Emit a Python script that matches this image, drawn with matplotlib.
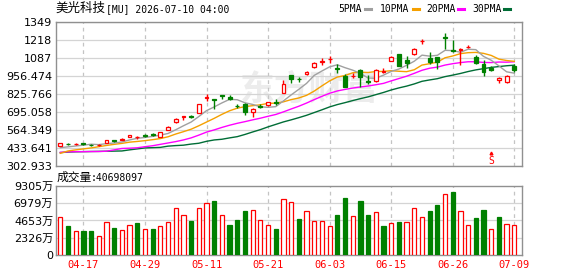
import matplotlib
matplotlib.use("Agg")
import matplotlib.pyplot as plt
from matplotlib.lines import Line2D
import numpy as np

# candle data (60 trading days)
opens = [445, 462, 457, 465, 454, 451, 470, 487, 493, 514,
         508, 523, 532, 515, 565, 618, 660, 662, 686, 793,
         784, 813, 803, 740, 751, 690, 733, 742, 765, 830,
         962, 936, 966, 1018, 1058, 1075, 1014, 955, 955, 998,
         919, 915, 984, 1064, 1112, 1071, 1112, 1206, 1088, 1090,
         1236, 1140, 1145, 1164, 1095, 1040, 1016, 927, 909, 1024]
highs = [468, 467, 465, 470, 458, 457, 492, 490, 506, 528,
         518, 530, 538, 548, 590, 650, 667, 670, 751, 822,
         790, 815, 813, 750, 761, 720, 748, 768, 785, 925,
         965, 950, 992, 1058, 1083, 1100, 1040, 967, 979, 1002,
         962, 1003, 1010, 1098, 1117, 1100, 1158, 1221, 1129, 1093,
         1269, 1216, 1155, 1180, 1107, 1071, 1025, 945, 960, 1042]
lows = [443, 452, 452, 455, 443, 448, 468, 478, 492, 512,
        500, 515, 520, 513, 562, 615, 636, 648, 683, 775,
        712, 788, 778, 723, 670, 660, 720, 738, 745, 828,
        902, 913, 960, 1015, 1034, 1047, 979, 873, 938, 873,
        897, 908, 974, 1062, 1028, 1015, 1110, 1187, 1040, 1003,
        1149, 1131, 1035, 1156, 1045, 957, 990, 902, 905, 982]
closes = [465, 458, 460, 462, 450, 453, 490, 484, 497, 525,
          512, 520, 524, 545, 585, 645, 665, 658, 748, 800,
          778, 810, 788, 735, 690, 715, 728, 765, 762, 900,
          932, 931, 982, 1048, 1062, 1080, 1009, 875, 958, 945,
          914, 1000, 988, 1095, 1030, 1047, 1149, 1210, 1059, 1059,
          1230, 1136, 1150, 1168, 1047, 986, 995, 943, 955, 998]

# moving averages as drawn
ma5 = [434, 440, 446, 452, 459, 456, 463, 468, 475, 490,
       502, 508, 516, 525, 537, 564, 593, 620, 660, 703,
       730, 759, 785, 782, 760, 748, 731, 727, 732, 774,
       817, 858, 901, 959, 991, 1021, 1036, 1015, 997, 973,
       940, 938, 961, 988, 1005, 1032, 1062, 1106, 1099, 1105,
       1141, 1139, 1127, 1149, 1146, 1097, 1069, 1028, 985, 975]
ma10 = [393, 410, 418, 425, 432, 441, 450, 458, 465, 474,
        479, 485, 492, 500, 513, 533, 550, 568, 593, 620,
        647, 676, 702, 721, 732, 739, 745, 756, 757, 767,
        783, 795, 814, 845, 883, 919, 947, 958, 978, 982,
        980, 987, 988, 993, 989, 986, 1000, 1034, 1044, 1055,
        1087, 1100, 1117, 1124, 1126, 1119, 1104, 1077, 1067, 1061]
ma20 = [400, 404, 405, 405, 406, 406, 408, 418, 428, 430,
        433, 441, 448, 458, 468, 478, 490, 505, 525, 547,
        563, 581, 597, 611, 623, 636, 648, 662, 675, 694,
        715, 735, 758, 783, 807, 829, 846, 857, 867, 875,
        882, 891, 901, 919, 936, 953, 974, 996, 1011, 1019,
        1034, 1044, 1052, 1058, 1058, 1053, 1052, 1056, 1055, 1058]
ma30 = [398, 402, 404, 405, 406, 407, 408, 409, 410, 418,
        425, 432, 434, 436, 445, 449, 452, 460, 466, 480,
        490, 495, 505, 514, 530, 548, 565, 585, 603, 621,
        636, 652, 669, 689, 709, 730, 747, 761, 776, 790,
        803, 819, 835, 853, 868, 881, 897, 916, 926, 935,
        950, 961, 973, 987, 999, 1008, 1017, 1023, 1029, 1033]

# volume in 万, and bar colour (r = up, g = down)
volume = [5160, 3960, 3250, 3290, 3160, 2580, 4450, 3690, 3380, 4090,
          4360, 3520, 3560, 3960, 4450, 6320, 5430, 4630, 6320, 6990,
          7300, 5430, 4090, 4760, 5960, 6050, 4720, 4090, 3560, 7520,
          7120, 4900, 5920, 4580, 4580, 3920, 5430, 7700, 5250, 7300,
          5430, 5790, 3960, 4320, 4490, 4450, 6320, 5120, 5960, 6760,
          8190, 8500, 5920, 4090, 5030, 6100, 3520, 5160, 4180, 4070]
vol_color = ["r", "g", "r", "g", "g", "r", "r", "g", "r", "r",
             "g", "r", "g", "r", "r", "r", "r", "g", "r", "r",
             "g", "r", "g", "g", "g", "r", "r", "r", "g", "r",
             "r", "g", "r", "r", "r", "r", "g", "g", "r", "g",
             "g", "r", "g", "r", "g", "r", "r", "r", "g", "g",
             "r", "g", "r", "r", "g", "g", "r", "g", "r", "r"]

price_ticks = [302.933, 433.641, 564.349, 695.058, 825.766, 956.474, 1087, 1218, 1349]
price_labels = ["302.933", "433.641", "564.349", "695.058", "825.766", "956.474", "1087", "1218", "1349"]
vol_ticks = [0, 2326, 4653, 6979, 9305]
vol_labels = ["0", "2326万", "4653万", "6979万", "9305万"]
date_pos = [3, 11, 19, 27, 35, 43, 51, 59]
date_labels = ["04-17", "04-29", "05-11", "05-21", "06-03", "06-15", "06-26", "07-09"]

RED = "#ff0000"
GREEN = "#008000"
GRID = "#d4d4d4"
SPINE = "#909090"

plt.rcParams["font.family"] = ["DejaVu Sans", "Noto Sans CJK SC"]

W, H = 578, 276
fig = plt.figure(figsize=(W / 100, H / 100), dpi=100)


def box(l, t, r, b):
    return [l / W, 1 - b / H, (r - l) / W, (b - t) / H]


ax = fig.add_axes(box(56, 21.7, 522, 165.7))
axv = fig.add_axes(box(56, 186.3, 522, 254.7))

x = np.arange(len(closes))

for a in (ax, axv):
    a.set_xlim(-0.56, 60.0)
    for s in a.spines.values():
        s.set_color(SPINE)
        s.set_linewidth(1.0)
    for p in date_pos:
        a.axvline(p, color="#c4c4c4", lw=0.9, dashes=(3, 3), zorder=1)
    a.tick_params(length=0, labelsize=8, colors="black")

# price panel
ax.set_ylim(302.933, 1349)
ax.set_yticks(price_ticks)
ax.set_yticklabels(price_labels)
ax.set_xticks([])
ax.tick_params(axis="y", pad=2.5)
for t in price_ticks:
    ax.axhline(t, color=GRID, lw=0.9, zorder=1)

ax.text(23.4, 862, "东方财富", fontsize=25, fontweight="bold", color="#ececec",
        family="Noto Sans CJK SC", va="center", ha="left", zorder=0)

ax.plot(x, ma30, color="#006d36", lw=1.0, zorder=2)
ax.plot(x, ma20, color="#ff00ff", lw=1.0, zorder=2)
ax.plot(x, ma10, color="#f5a000", lw=1.0, zorder=2)
ax.plot(x, ma5, color="#a0a0a0", lw=1.0, zorder=2)

for i in range(len(closes)):
    o, h, l, c = opens[i], highs[i], lows[i], closes[i]
    up = c >= o
    col = RED if up else GREEN
    ax.vlines(i, l, h, color=col, lw=1.0, zorder=3)
    lo, hi = min(o, c), max(o, c)
    ax.bar(i, max(hi - lo, 1.0), bottom=lo, width=0.5,
           facecolor="white" if up else col, edgecolor=col, lw=0.9, zorder=4)

# sell marker
ax.plot([56], [0.085], marker="^", ms=2, color=RED, transform=ax.get_xaxis_transform(), zorder=5)
ax.text(56, 0.035, "S", color=RED, fontsize=7, family="DejaVu Sans Mono",
        ha="center", va="center", transform=ax.get_xaxis_transform(), zorder=5)

# volume panel
axv.set_ylim(0, 9305)
axv.set_yticks(vol_ticks)
axv.set_yticklabels(vol_labels)
axv.tick_params(axis="y", pad=2)
for t in vol_ticks[1:-1]:
    axv.axhline(t, color=GRID, lw=0.9, zorder=1)
axv.set_xticks(date_pos)
axv.set_xticklabels(date_labels, color=RED, family="DejaVu Sans Mono", fontsize=7.5)
axv.tick_params(axis="x", pad=4)

for i in range(len(volume)):
    up = vol_color[i] == "r"
    col = RED if up else GREEN
    axv.bar(i, volume[i], width=0.55, facecolor="white" if up else col,
            edgecolor=col, lw=0.9, zorder=3)

# header texts
fig.text(55 / W, 1 - 8.7 / H, "美光科技", fontsize=9, family="Noto Sans CJK SC", va="center")
fig.text(106 / W, 1 - 8.7 / H, "[MU] 2026-07-10 04:00", fontsize=7, family="DejaVu Sans Mono", va="center")

fig.text(57 / W, 1 - 177.7 / H, "成交量", fontsize=8.5, family="Noto Sans CJK SC", va="center")
fig.text(91 / W, 1 - 177.7 / H, ":40698097", fontsize=7, family="DejaVu Sans Mono", va="center")

legend = [("5PMA", 338, 365, "#a0a0a0"), ("10PMA", 380, 413, "#f5a000"),
          ("20PMA", 426, 458, "#ff00ff"), ("30PMA", 472, 504, "#006d36")]
for name, tx, sx, col in legend:
    fig.text(tx / W, 1 - 8.7 / H, name, fontsize=7, family="DejaVu Sans Mono", va="center")
    fig.add_artist(Line2D([sx / W, (sx + 6) / W], [1 - 9 / H, 1 - 9 / H], color=col, lw=2.2))

fig.savefig("out.png", dpi=100)
